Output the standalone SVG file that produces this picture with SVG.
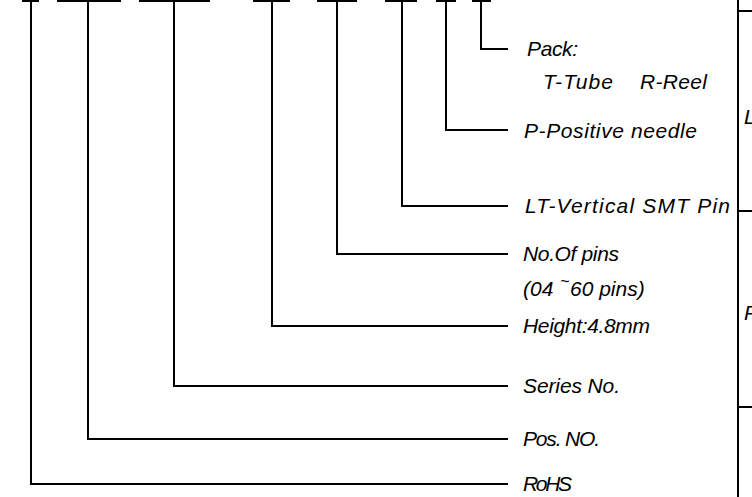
<svg xmlns="http://www.w3.org/2000/svg" width="752" height="497" viewBox="0 0 752 497">
<style>
.bar{fill:#000}
.ln{fill:none;stroke:#000;stroke-width:2}
.t{font-family:"Liberation Sans",Arial,sans-serif;font-style:italic;font-size:21px;fill:#000}
</style>
<rect width="752" height="497" fill="#fff"/>
<g id="seg1"><rect class="bar" x="22" y="0" width="17" height="2"/></g>
<g id="seg2"><rect class="bar" x="57" y="0" width="64" height="2"/></g>
<g id="seg3"><rect class="bar" x="139" y="0" width="71" height="2"/></g>
<g id="seg4"><rect class="bar" x="253" y="0" width="37" height="2"/></g>
<g id="seg5"><rect class="bar" x="317" y="0" width="40" height="2"/></g>
<g id="seg6"><rect class="bar" x="385" y="0" width="32" height="2"/></g>
<g id="seg7"><rect class="bar" x="436" y="0" width="20" height="2"/></g>
<g id="seg8"><rect class="bar" x="472" y="0" width="19" height="2"/></g>
<g id="connectors">
<polyline class="ln" points="31,1 31,484 508,484"/>
<polyline class="ln" points="88,1 88,439 508,439"/>
<polyline class="ln" points="174,1 174,386 508,386"/>
<polyline class="ln" points="272,1 272,326 508,326"/>
<polyline class="ln" points="337,1 337,254 508,254"/>
<polyline class="ln" points="402,1 402,206 508,206"/>
<polyline class="ln" points="446,1 446,130 508,130"/>
<polyline class="ln" points="481,1 481,49 508,49"/>
</g>
<g id="label-pack">
<text class="t" x="527" y="56" textLength="51" lengthAdjust="spacing">Pack:</text>
<text class="t" x="543" y="89" textLength="70" lengthAdjust="spacing">T-Tube</text>
<text class="t" x="640" y="89" textLength="67" lengthAdjust="spacing">R-Reel</text>
</g>
<g id="label-positive"><text class="t" x="524" y="138" textLength="173" lengthAdjust="spacing">P-Positive needle</text></g>
<g id="label-lt"><text class="t" x="525" y="213" textLength="205" lengthAdjust="spacing">LT-Vertical  SMT Pin</text></g>
<g id="label-pins">
<text class="t" x="523" y="261" textLength="96" lengthAdjust="spacing">No.Of pins</text>
<text class="t" x="523" y="296">(04<tspan x="560" dy="-9" font-size="16">~</tspan><tspan x="570" dy="9">60 pins)</tspan></text>
</g>
<g id="label-height"><text class="t" x="523" y="333" textLength="127" lengthAdjust="spacing">Height:4.8mm</text></g>
<g id="label-series"><text class="t" x="523" y="393" textLength="97" lengthAdjust="spacing">Series No.</text></g>
<g id="label-pos"><text class="t" x="523" y="446" textLength="77" lengthAdjust="spacing">Pos. NO.</text></g>
<g id="label-rohs"><text class="t" x="523" y="491" textLength="49" lengthAdjust="spacing">RoHS</text></g>
<g id="frame">
<line class="ln" x1="738" y1="0" x2="738" y2="497"/>
<line class="ln" x1="738" y1="11" x2="752" y2="11"/>
<line class="ln" x1="738" y1="211" x2="752" y2="211"/>
<line class="ln" x1="738" y1="407" x2="752" y2="407"/>
<text class="t" x="744" y="124">L</text>
<text class="t" x="744" y="320">P</text>
</g>
</svg>
